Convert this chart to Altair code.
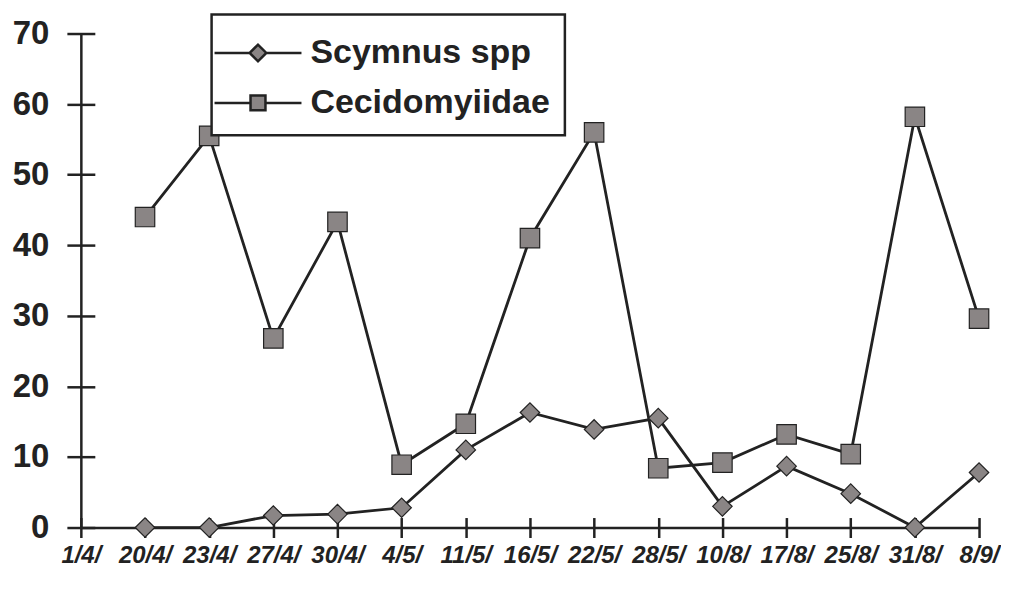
import altair as alt
import pandas as pd

dates = ['1/4/', '20/4/', '23/4/', '27/4/', '30/4/', '4/5/', '11/5/', '16/5/',
         '22/5/', '28/5/', '10/8/', '17/8/', '25/8/', '31/8/', '8/9/']
series = ['Scymnus spp', 'Cecidomyiidae']

# values per date (1/4/ has no observation)
scymnus = [None, 0, 0, 1.7, 1.9, 2.8, 11, 16.3, 13.9, 15.5, 3, 8.7, 4.8, 0, 7.8]
cecido = [None, 44, 55.5, 26.8, 43.3, 8.9, 14.7, 41, 56, 8.4, 9.2, 13.2, 10.4, 58.2, 29.6]

rows = []
for name, vals in zip(series, [scymnus, cecido]):
    for d, v in zip(dates, vals):
        if v is not None:
            rows.append({'date': d, 'series': name, 'value': v})
df = pd.DataFrame(rows)

FONT = 'Liberation Sans'
INK = '#222222'
MARKER_FILL = '#8a8585'

x_enc = alt.X('date:N', sort=dates, title=None,
              scale=alt.Scale(type='point', domain=dates, padding=0),
              axis=alt.Axis(labelFont=FONT, labelFontSize=24, labelFontWeight='bold',
                            labelFontStyle='italic', labelColor=INK, labelAngle=0,
                            labelPadding=6, offset=-10, tickSize=20, tickWidth=2.5,
                            tickColor=INK, domain=False, grid=True, gridColor=INK,
                            gridWidth=2.5,
                            gridOpacity={'condition': {'test': "datum.value === '1/4/'", 'value': 1}, 'value': 0}))
y_enc = alt.Y('value:Q', title=None,
              scale=alt.Scale(domain=[0, 70], nice=False),
              axis=alt.Axis(values=[0, 10, 20, 30, 40, 50, 60, 70], labelFont=FONT,
                            labelFontSize=33, labelFontWeight='bold', labelColor=INK,
                            labelPadding=18, offset=-14, tickSize=28, tickWidth=2.5,
                            tickColor=INK, domain=False, grid=True, gridColor=INK,
                            gridWidth=2.5,
                            gridOpacity={'condition': {'test': 'datum.value === 0', 'value': 1}, 'value': 0}))

base = alt.Chart(df).encode(x=x_enc, y=y_enc)

lines = base.mark_line(color=INK, strokeWidth=2.8).encode(detail='series:N')

points = base.mark_point(filled=True, fill=MARKER_FILL, stroke=INK, strokeWidth=1.2,
                         opacity=1, size=380).encode(
    shape=alt.Shape('series:N', scale=alt.Scale(domain=series, range=['diamond', 'square']),
                    legend=None))

diamond_path = 'M-1.98,0H-0.38M0.38,0H1.98M-0.38,0L0,-0.38L0.38,0L0,0.38Z'
square_path = 'M-1.98,0H-0.34M0.34,0H1.98M-0.34,-0.34H0.34V0.34H-0.34Z'

legend_layer = base.mark_point(filled=False, fill=MARKER_FILL, stroke=INK, strokeWidth=2.5,
                               opacity=1).encode(
    shape=alt.Shape('series:N',
                    scale=alt.Scale(domain=series, range=[diamond_path, square_path]),
                    legend=alt.Legend(title=None, orient='none', legendX=131, legendY=-19,
                                      direction='vertical', padding=15, fillColor='white',
                                      strokeColor=INK, cornerRadius=0,
                                      symbolSize=1936, symbolOffset=8,
                                      symbolStrokeWidth=2.5, labelOffset=29, rowPadding=9,
                                      labelFont=FONT, labelFontSize=34, labelFontWeight='bold',
                                      labelColor=INK, labelLimit=0))
).transform_filter('datum.value < -1000')

chart = alt.layer(lines, points, legend_layer).resolve_scale(shape='independent').properties(
    width=900, height=495,
    autosize=alt.AutoSizeParams(type='none'),
    padding={'left': 73, 'top': 25, 'right': 22, 'bottom': 50},
    background='white'
).configure_view(stroke=None).configure_legend(strokeWidth=2.5)

chart.save('out.html', embed_options={'renderer': 'svg', 'actions': False})
